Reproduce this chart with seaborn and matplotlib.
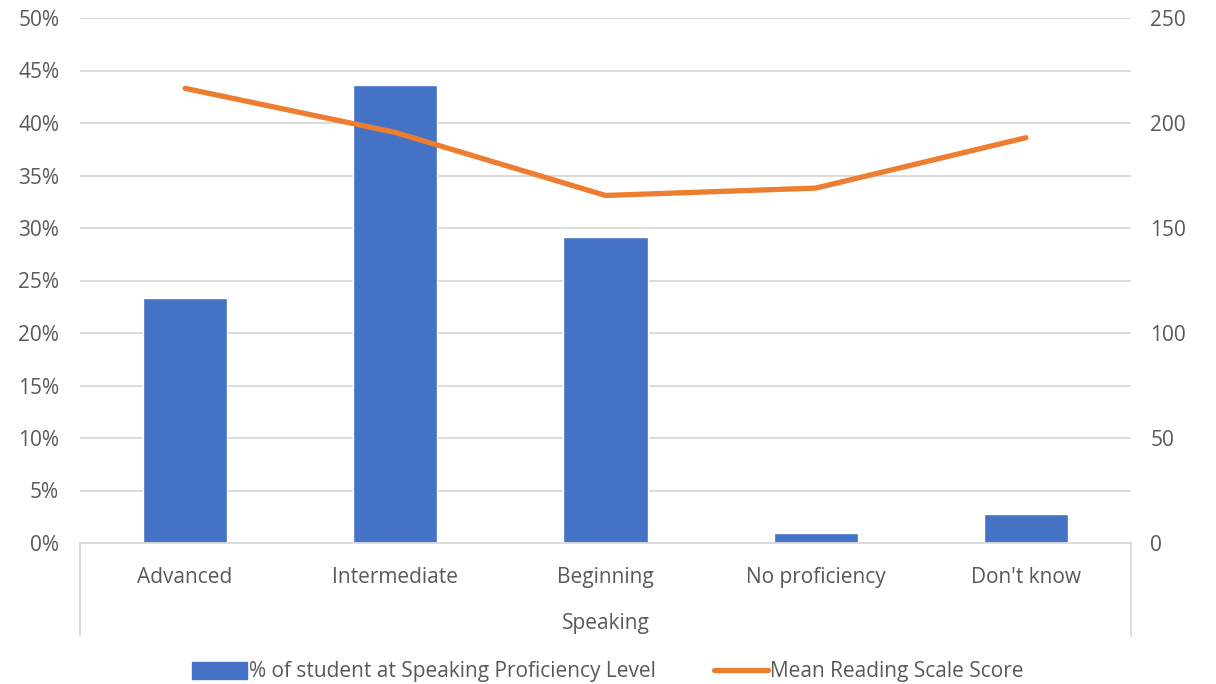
import numpy as np
import matplotlib
matplotlib.use("Agg")
import matplotlib.pyplot as plt
from matplotlib.patches import Patch
from matplotlib.lines import Line2D
from matplotlib.ticker import PercentFormatter
import seaborn as sns

# data
levels = ["Advanced", "Intermediate", "Beginning", "No proficiency", "Don't know"]
pct_students = [23.3, 43.6, 29.1, 1.0, 2.8]        # % of students
mean_scores = [216.5, 195.5, 165.5, 169.0, 193.0]  # mean reading scale score

group_label = "Speaking"
bar_label = "% of student at Speaking Proficiency Level"
line_label = "Mean Reading Scale Score"

BLUE = "#4472C4"
ORANGE = "#ED7D31"
GRID = "#D9D9D9"
TXT = "#595959"
FS = 15

sns.set_style("white")
plt.rcParams["font.family"] = ["Open Sans", "DejaVu Sans"]
plt.rcParams["font.size"] = FS

fig = plt.figure(figsize=(12.16, 6.84), dpi=100)
ax = fig.add_axes([80 / 1216, 1 - 543 / 684, (1131 - 80) / 1216, (543 - 18) / 684])

# bars on primary axis
sns.barplot(x=levels, y=pct_students, color=BLUE, width=0.4, saturation=1, ax=ax, zorder=2)
ax.set_xlim(-0.5, len(levels) - 0.5)
ax.set_ylim(0, 50)
ax.set_yticks(np.arange(0, 51, 5))
ax.yaxis.set_major_formatter(PercentFormatter(decimals=0))
ax.grid(axis="y", color=GRID, linewidth=1.3, zorder=0)
ax.set_axisbelow(True)
for s in ["top", "left", "right"]:
    ax.spines[s].set_visible(False)
ax.spines["bottom"].set_color(GRID)
ax.spines["bottom"].set_linewidth(1.3)
ax.tick_params(axis="both", length=0, colors=TXT, labelsize=FS)
ax.tick_params(axis="x", pad=17)
ax.tick_params(axis="y", pad=15)
ax.set_ylabel("")
ax.set_xlabel(group_label, color=TXT, fontsize=FS, labelpad=18)

# multi-level category box lines
for xpos in (0, 1):
    ax.add_line(Line2D([xpos, xpos], [0, -93 / 525], transform=ax.transAxes,
                       color=GRID, linewidth=1.3, clip_on=False))

# line on secondary axis
ax2 = ax.twinx()
sns.lineplot(x=np.arange(len(levels)), y=mean_scores, color=ORANGE, linewidth=3.8,
             sort=False, ax=ax2, solid_capstyle="round", solid_joinstyle="round")
ax2.set_ylim(0, 250)
ax2.set_yticks(np.arange(0, 251, 50))
ax2.set_xlim(-0.5, len(levels) - 0.5)
for s in ax2.spines.values():
    s.set_visible(False)
ax2.tick_params(axis="y", length=0, colors=TXT, labelsize=FS, pad=14)
ax2.set_ylabel("")

# legend
handles = [Patch(facecolor=BLUE, edgecolor=BLUE, label=bar_label),
           Line2D([0], [0], color=ORANGE, linewidth=3.8, label=line_label)]
fig.legend(handles=handles, loc="center", bbox_to_anchor=(0.5, 1 - 672 / 684), ncol=2,
           frameon=False, fontsize=FS, labelcolor=TXT, handlelength=2.6,
           handleheight=0.9, handletextpad=0.1, columnspacing=2.8)

fig.savefig("out.png", dpi=100)
